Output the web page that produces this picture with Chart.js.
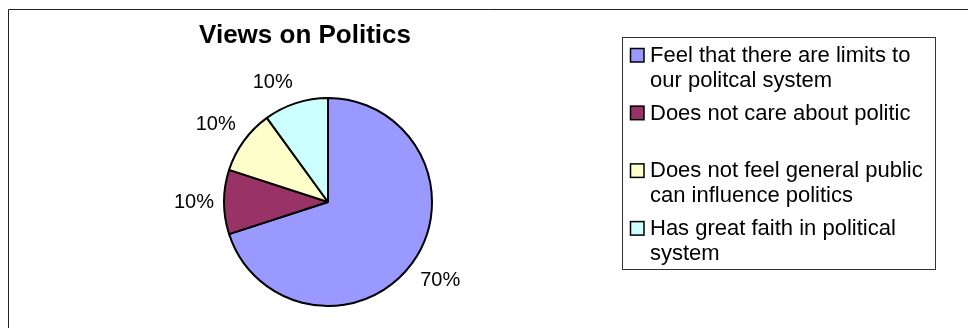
<!DOCTYPE html>
<html>
<head>
<meta charset="utf-8">
<style>
  html, body { margin: 0; padding: 0; background: #fff; }
  #wrap { position: relative; width: 968px; height: 328px; }
</style>
<script src="https://cdn.jsdelivr.net/npm/chart.js@4/dist/chart.umd.min.js"></script>
</head>
<body>
<div id="wrap"><canvas id="c" width="968" height="328"></canvas></div>
<script>
// Survey answers and their shares
const categories = [
  'Feel that there are limits to our politcal system',
  'Does not care about politic',
  'Does not feel general public can influence politics',
  'Has great faith in political system'
];
const shares = [70, 10, 10, 10];
const sliceColors = ['#9999FF', '#993366', '#FFFFCC', '#CCFFFF'];
const chartTitle = 'Views on Politics';

const FONT = '"Liberation Sans", Arial, sans-serif';

// Outer frame, title, legend box and percentage labels
const decorations = {
  id: 'decorations',
  beforeDraw(chart) {
    const ctx = chart.ctx;
    ctx.save();
    ctx.fillStyle = '#fff';
    ctx.fillRect(0, 0, chart.width, chart.height);
    ctx.strokeStyle = '#222';
    ctx.lineWidth = 1;
    ctx.beginPath();
    ctx.moveTo(8.5, chart.height);
    ctx.lineTo(8.5, 9.5);
    ctx.lineTo(chart.width, 9.5);
    ctx.stroke();
    ctx.restore();
  },
  afterDraw(chart) {
    const ctx = chart.ctx;
    ctx.save();

    // title
    ctx.fillStyle = '#000';
    ctx.font = 'bold 26px ' + FONT;
    ctx.textAlign = 'center';
    ctx.textBaseline = 'middle';
    ctx.fillText(chartTitle, 305, 36);

    // percentage labels: the label box corner nearest the pie sits just outside the rim
    const meta = chart.getDatasetMeta(0);
    const total = shares.reduce((a, b) => a + b, 0);
    ctx.font = '20px ' + FONT;
    const sgn = v => (Math.abs(v) < 0.1 ? 0 : Math.sign(v));
    meta.data.forEach((arc, i) => {
      const p = arc.getProps(['x', 'y', 'startAngle', 'endAngle', 'outerRadius'], true);
      const mid = (p.startAngle + p.endAngle) / 2;
      const rr = p.outerRadius + 10;
      const txt = Math.round(shares[i] / total * 100) + '%';
      const w = ctx.measureText(txt).width;
      const h = 22;
      const ax = p.x + Math.cos(mid) * rr;
      const ay = p.y + Math.sin(mid) * rr;
      ctx.fillText(txt, ax + sgn(Math.cos(mid)) * w / 2, ay + sgn(Math.sin(mid)) * h / 2);
    });

    // legend
    const box = { x: 622.5, y: 37.5, w: 313, h: 232 };
    ctx.strokeStyle = '#333';
    ctx.lineWidth = 1;
    ctx.strokeRect(box.x, box.y, box.w, box.h);
    ctx.font = '22px ' + FONT;
    ctx.textAlign = 'left';
    const wrapWidth = 285;
    categories.forEach((label, i) => {
      const words = label.split(' ');
      const lines = [];
      let cur = '';
      words.forEach(w => {
        const test = cur ? cur + ' ' + w : w;
        if (ctx.measureText(test).width > wrapWidth && cur) {
          lines.push(cur);
          cur = w;
        } else {
          cur = test;
        }
      });
      if (cur) lines.push(cur);
      const cy = 55 + i * 57.7;
      ctx.fillStyle = sliceColors[i];
      ctx.fillRect(630, cy - 7, 14, 14);
      ctx.strokeStyle = '#000';
      ctx.lineWidth = 1.5;
      ctx.strokeRect(630.5, cy - 6.5, 13.5, 13.5);
      ctx.fillStyle = '#000';
      lines.forEach((ln, k) => ctx.fillText(ln, 650, cy + 1 + k * 25));
    });
    ctx.restore();
  }
};

new Chart(document.getElementById('c'), {
  type: 'pie',
  data: {
    labels: categories,
    datasets: [{
      data: shares,
      backgroundColor: sliceColors,
      borderColor: '#000',
      borderWidth: 2
    }]
  },
  options: {
    responsive: false,
    animation: false,
    radius: 104,
    layout: { padding: { left: 200, right: 512, top: 96, bottom: 20 } },
    plugins: {
      legend: { display: false },
      title: { display: false },
      tooltip: { enabled: false }
    }
  },
  plugins: [decorations]
});
</script>
</body>
</html>
